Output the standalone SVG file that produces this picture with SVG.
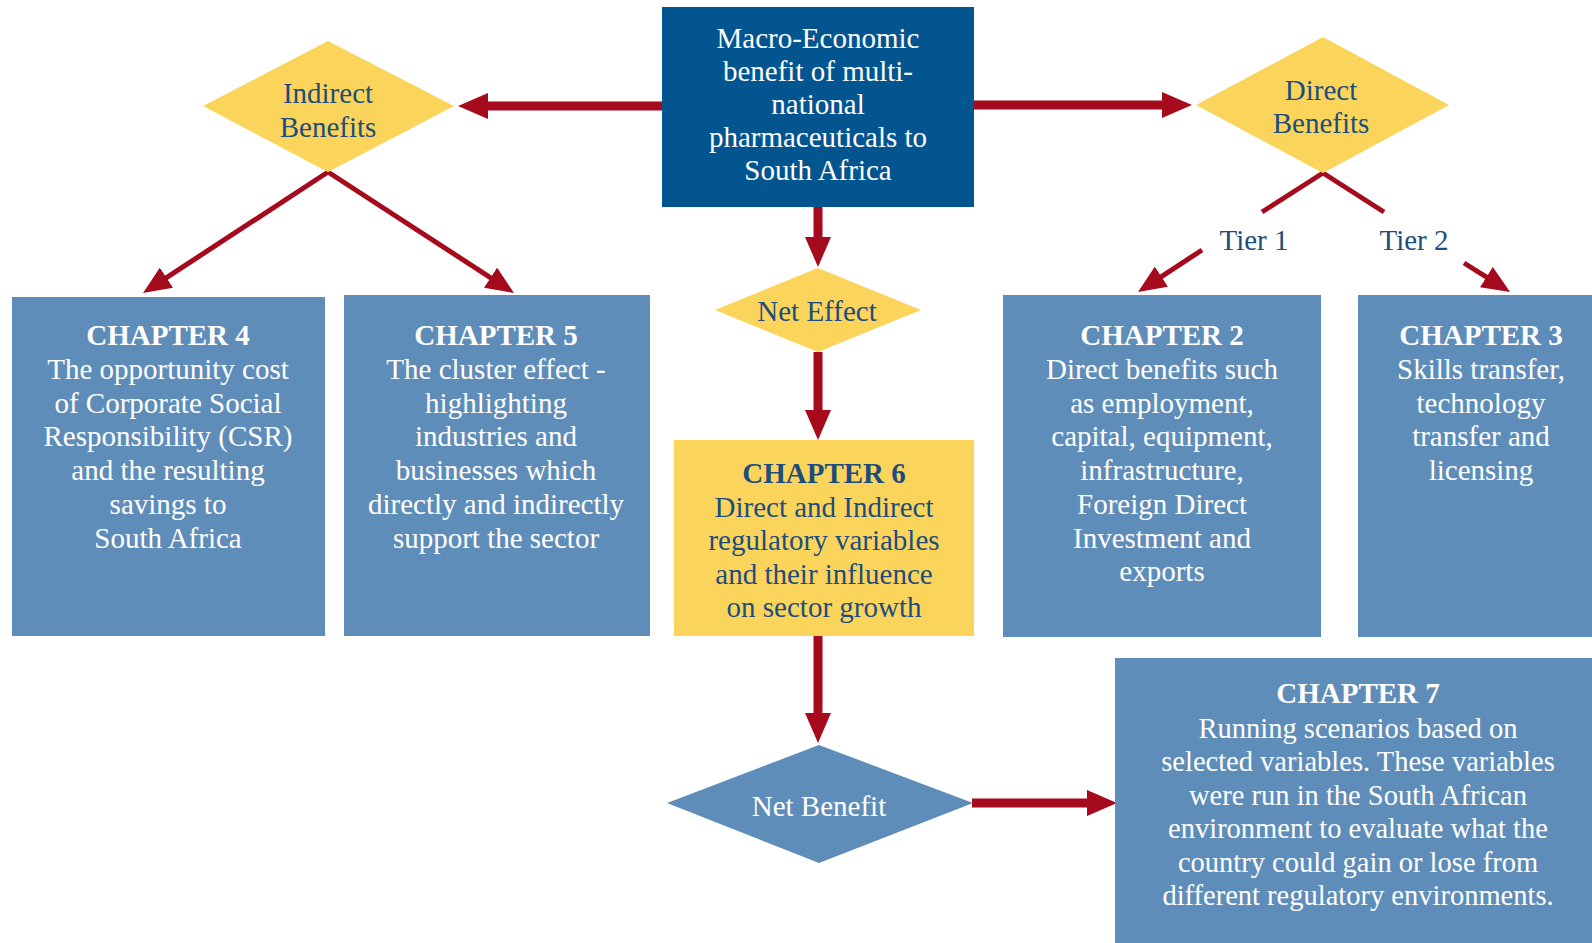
<svg xmlns="http://www.w3.org/2000/svg" width="1592" height="943" viewBox="0 0 1592 943">
<style>
text{font-family:"Liberation Serif","Times New Roman",serif;font-size:29px;text-anchor:middle}
.w{fill:#ffffff}
.d{fill:#1e4d7d}
.b{font-weight:bold}
.box{fill:#5f8db9}
.dark{fill:#03558f}
.yel{fill:#fbd55b}
.c{stroke:#a50b1d;fill:none;stroke-linecap:butt}
.thick{stroke-width:9}
.thin{stroke-width:5}
</style>
<defs>
<marker id="ab" markerUnits="userSpaceOnUse" markerWidth="30" markerHeight="26" viewBox="0 0 30 26" refX="18" refY="13" orient="auto"><path d="M0,0 L30,13 L0,26 z" fill="#a50b1d"/></marker>
<marker id="as" markerUnits="userSpaceOnUse" markerWidth="28" markerHeight="24" viewBox="0 0 28 24" refX="20" refY="12" orient="auto"><path d="M0,0 L28,12 L0,24 z" fill="#a50b1d"/></marker>
</defs>
<rect width="1592" height="943" fill="#ffffff"/>

<g id="connectors">
<line class="c thick" x1="662" y1="106" x2="470" y2="106" marker-end="url(#ab)"/>
<line class="c thick" x1="974" y1="105" x2="1180" y2="105" marker-end="url(#ab)"/>
<line class="c thick" x1="818" y1="207" x2="818" y2="255" marker-end="url(#ab)"/>
<line class="c thick" x1="818" y1="352" x2="818" y2="428" marker-end="url(#ab)"/>
<line class="c thick" x1="818" y1="636" x2="818" y2="731" marker-end="url(#ab)"/>
<line class="c thick" x1="972" y1="803" x2="1105" y2="803" marker-end="url(#ab)"/>
<line class="c thin" x1="328" y1="172" x2="149.7" y2="288.6" marker-end="url(#as)"/>
<line class="c thin" x1="328" y1="172" x2="507.3" y2="288.6" marker-end="url(#as)"/>
<line class="c thin" x1="1323" y1="173" x2="1262" y2="212"/>
<line class="c thin" x1="1202" y1="250" x2="1144.7" y2="287.6" marker-end="url(#as)"/>
<line class="c thin" x1="1323" y1="173" x2="1384" y2="212"/>
<line class="c thin" x1="1464" y1="263" x2="1503.3" y2="287.7" marker-end="url(#as)"/>
<text class="d" x="1254" y="250">Tier 1</text>
<text class="d" x="1414" y="250">Tier 2</text>
</g>

<g id="macro">
<rect class="dark" x="662" y="7" width="312" height="200"/>
<text class="w" x="818" y="48">Macro-Economic</text>
<text class="w" x="818" y="81">benefit of multi-</text>
<text class="w" x="818" y="114">national</text>
<text class="w" x="818" y="147">pharmaceuticals to</text>
<text class="w" x="818" y="180">South Africa</text>
</g>

<g id="indirect">
<polygon class="yel" points="328,41 454,106 328,172 203,106"/>
<text class="d" x="328" y="103">Indirect</text>
<text class="d" x="328" y="137">Benefits</text>
</g>

<g id="direct">
<polygon class="yel" points="1323,37 1449,105 1323,173 1196,105"/>
<text class="d" x="1321" y="100">Direct</text>
<text class="d" x="1321" y="133">Benefits</text>
</g>

<g id="neteffect">
<polygon class="yel" points="818,268 921,310 818,352 715,310"/>
<text class="d" x="817" y="321">Net Effect</text>
</g>

<g id="ch4">
<rect class="box" x="12" y="297" width="313" height="339"/>
<text class="w b" x="168" y="345">CHAPTER 4</text>
<text class="w" x="168" y="379">The opportunity cost</text>
<text class="w" x="168" y="413">of Corporate Social</text>
<text class="w" x="168" y="446">Responsibility (CSR)</text>
<text class="w" x="168" y="480">and the resulting</text>
<text class="w" x="168" y="514">savings to</text>
<text class="w" x="168" y="548">South Africa</text>
</g>

<g id="ch5">
<rect class="box" x="344" y="295" width="306" height="341"/>
<text class="w b" x="496" y="345">CHAPTER 5</text>
<text class="w" x="496" y="379">The cluster effect -</text>
<text class="w" x="496" y="413">highlighting</text>
<text class="w" x="496" y="446">industries and</text>
<text class="w" x="496" y="480">businesses which</text>
<text class="w" x="496" y="514">directly and indirectly</text>
<text class="w" x="496" y="548">support the sector</text>
</g>

<g id="ch6">
<rect class="yel" x="674" y="440" width="300" height="196"/>
<text class="d b" x="824" y="483">CHAPTER 6</text>
<text class="d" x="824" y="517">Direct and Indirect</text>
<text class="d" x="824" y="550">regulatory variables</text>
<text class="d" x="824" y="584">and their influence</text>
<text class="d" x="824" y="617">on sector growth</text>
</g>

<g id="ch2">
<rect class="box" x="1003" y="295" width="318" height="342"/>
<text class="w b" x="1162" y="345">CHAPTER 2</text>
<text class="w" x="1162" y="379">Direct benefits such</text>
<text class="w" x="1162" y="413">as employment,</text>
<text class="w" x="1162" y="446">capital, equipment,</text>
<text class="w" x="1162" y="480">infrastructure,</text>
<text class="w" x="1162" y="514">Foreign Direct</text>
<text class="w" x="1162" y="548">Investment and</text>
<text class="w" x="1162" y="581">exports</text>
</g>

<g id="ch3">
<rect class="box" x="1358" y="295" width="234" height="342"/>
<text class="w b" x="1481" y="345">CHAPTER 3</text>
<text class="w" x="1481" y="379">Skills transfer,</text>
<text class="w" x="1481" y="413">technology</text>
<text class="w" x="1481" y="446">transfer and</text>
<text class="w" x="1481" y="480">licensing</text>
</g>

<g id="netbenefit">
<polygon class="box" points="819,745 973,803 819,863 667,803"/>
<text class="w" x="819" y="816">Net Benefit</text>
</g>

<g id="ch7">
<rect class="box" x="1115" y="658" width="477" height="285"/>
<text class="w b" x="1358" y="703">CHAPTER 7</text>
<text class="w" x="1358" y="738" style="font-size:28.5px">Running scenarios based on</text>
<text class="w" x="1358" y="771" style="font-size:28.5px">selected variables. These variables</text>
<text class="w" x="1358" y="805" style="font-size:28.5px">were run in the South African</text>
<text class="w" x="1358" y="838" style="font-size:28.5px">environment to evaluate what the</text>
<text class="w" x="1358" y="872" style="font-size:28.5px">country could gain or lose from</text>
<text class="w" x="1358" y="905" style="font-size:28.5px">different regulatory environments.</text>
</g>
</svg>
